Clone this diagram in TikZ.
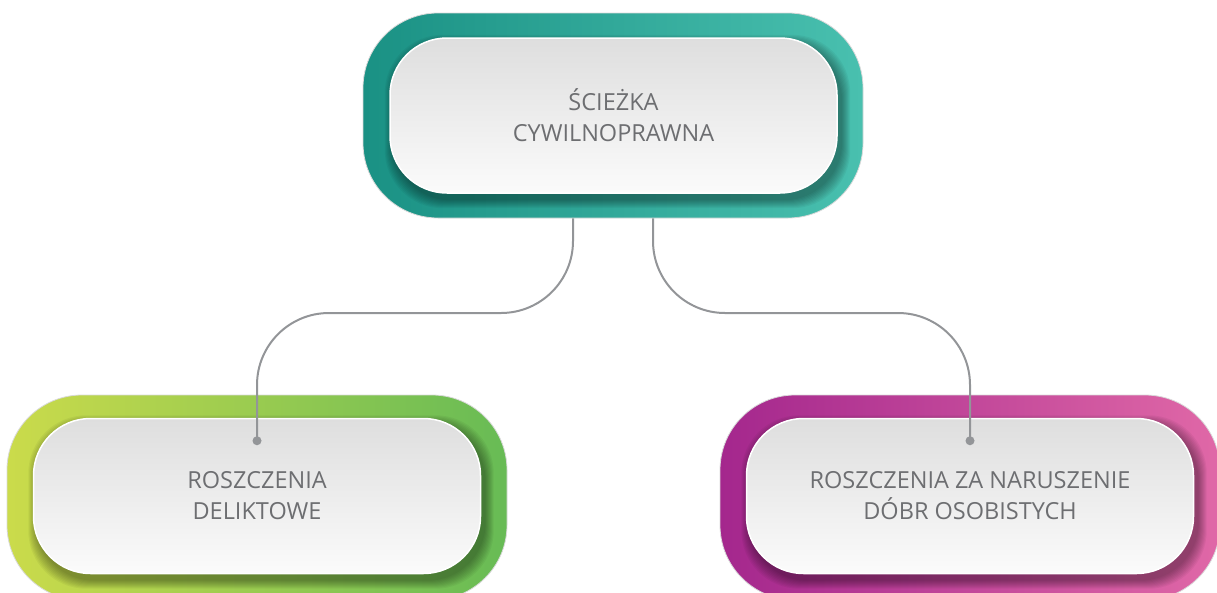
\documentclass[tikz,border=0pt]{standalone}
\usepackage{fontspec}
\setmainfont{Open Sans}
\usetikzlibrary{calc}
\definecolor{tealL}{HTML}{1A9184}
\definecolor{tealR}{HTML}{49C0AF}
\definecolor{greenL}{HTML}{CBDB4B}
\definecolor{greenR}{HTML}{67BB55}
\definecolor{magL}{HTML}{A4278D}
\definecolor{magR}{HTML}{E068A7}
\definecolor{txt}{HTML}{6D6E71}
\definecolor{conn}{HTML}{939598}
\definecolor{innerT}{HTML}{DEDEDE}
\definecolor{innerB}{HTML}{FBFBFB}
\tikzset{
  outerbox/.style={rectangle, rounded corners=75pt, minimum width=500pt, minimum height=205pt, draw=black!15, line width=0.8pt, inner sep=0pt},
  innerbox/.style={rectangle, rounded corners=57pt, minimum width=447pt, minimum height=155pt, top color=innerT, bottom color=innerB, draw=white, line width=1.5pt, text=txt, font=\fontsize{23.5}{31}\selectfont, align=center, inner sep=0pt},
  connector/.style={draw=conn, line width=2pt, rounded corners=72pt},
  enddot/.style={fill=conn}
}
\newcommand\innershadow[1]{%
  \foreach \i in {1,...,9}{%
    \fill[black, opacity=0.045, rounded corners=58pt]
      ($(#1.north west)+(4-\i,6-\i)$) rectangle ($(#1.south east)+(4+\i,6+\i)$);
  }}
\begin{document}
\begin{tikzpicture}[x=1pt,y=-1pt]
\useasboundingbox (0,0) rectangle (1217,592);
\clip (0,0) rectangle (1217,592);
% top
\node[outerbox, left color=tealL, right color=tealR] (topouter) at (613,115.5) {};
\path (613.5,115.5) node[minimum width=447pt, minimum height=155pt, inner sep=0pt] (topghost) {};
\innershadow{topghost}
\node[innerbox] (top) at (613.5,115.5) {ŚCIEŻKA\\CYWILNOPRAWNA};
% bottom left
\node[outerbox, left color=greenL, right color=greenR] (blouter) at (257,497.5) {};
\path (257,496) node[minimum width=447pt, minimum height=155pt, inner sep=0pt] (blghost) {};
\innershadow{blghost}
\node[innerbox] (bl) at (257,496) {ROSZCZENIA\\DELIKTOWE};
% bottom right
\node[outerbox, left color=magL, right color=magR] (brouter) at (970,497.5) {};
\path (970,496) node[minimum width=447pt, minimum height=155pt, inner sep=0pt] (brghost) {};
\innershadow{brghost}
\node[innerbox] (br) at (970,496) {ROSZCZENIA ZA NARUSZENIE\\DÓBR OSOBISTYCH};
% connectors
\coordinate (ls) at ([xshift=-40pt]topouter.south);
\coordinate (rs) at ([xshift=40pt]topouter.south);
\coordinate (ld) at ([yshift=-23pt]bl.north);
\coordinate (rd) at ([yshift=-23pt]br.north);
\draw[connector] (ls) -- (ls |- 0,313) -- (ld |- 0,313) -- (ld);
\draw[connector] (rs) -- (rs |- 0,313) -- (rd |- 0,313) -- (rd);
\fill[enddot] (ld) circle (4.5pt);
\fill[enddot] (rd) circle (4.5pt);
\end{tikzpicture}
\end{document}
